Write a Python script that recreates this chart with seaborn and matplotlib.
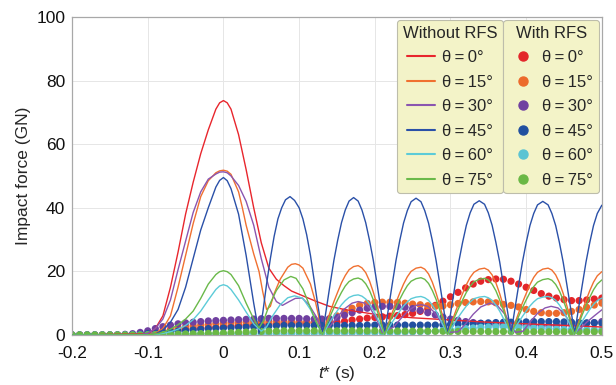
import numpy as np
import seaborn as sns
import matplotlib.pyplot as plt
from matplotlib.lines import Line2D

# ---- data ----
angles = ['0', '15', '30', '45', '60', '75']
line_colors = ['#e8262d', '#f07030', '#8a55b0', '#2a50a8', '#5ccbd8', '#6ab94a']
dot_colors = ['#e3262a', '#ec6a2c', '#7040a0', '#2150a0', '#5bc4d3', '#6ab845']

# Without RFS (lines)
# main pulse part of each curve, own time axis
t_00 = [-0.2, -0.1, -0.09, -0.08, -0.07, -0.06, -0.05, -0.04, -0.03, -0.02, -0.01, -0.005, 0.0,
        0.005, 0.01, 0.02, 0.03, 0.04, 0.05, 0.06, 0.07, 0.08, 0.09, 0.1, 0.11, 0.12, 0.14,
        0.16, 0.2, 0.25, 0.3, 0.35, 0.4, 0.45, 0.5]
f_00 = [0, 0.3, 2, 6, 15, 26, 38, 48, 57, 64.5, 71, 73, 73.7,
        73, 71, 63, 52, 40, 29, 21, 17.5, 15.5, 13.8, 12.8, 11.8, 10.8, 9,
        8, 6.5, 5.4, 4.7, 4, 3.5, 3, 2.5]

t_15p = [-0.2, -0.1, -0.09, -0.08, -0.07, -0.06, -0.05, -0.04, -0.03, -0.02, -0.01, -0.005, 0.0,
         0.005, 0.01, 0.02, 0.025, 0.03, 0.04, 0.047, 0.052, 0.057, 0.062, 0.067, 0.075, 0.085,
         0.09, 0.095, 0.1, 0.105, 0.115, 0.122]
f_15p = [0, 0, 0.5, 2, 6, 15, 25, 35, 43.5, 48.5, 51, 51.6, 51.8,
         51.5, 50.5, 45, 40, 34.5, 25.5, 20, 13.5, 8, 9, 13, 17.5, 21.3,
         22.2, 22.4, 22, 21, 16, 10]

t_30 = [-0.2, -0.11, -0.1, -0.09, -0.08, -0.07, -0.06, -0.05, -0.04, -0.03, -0.02, -0.01, -0.005,
        0.0, 0.005, 0.01, 0.02, 0.03, 0.04, 0.05, 0.06, 0.07, 0.078, 0.087, 0.095, 0.104, 0.113,
        0.122, 0.13,
        0.14, 0.15, 0.16, 0.17, 0.178, 0.187, 0.195, 0.203, 0.21,
        0.225, 0.235, 0.245, 0.255, 0.262, 0.27, 0.278, 0.287, 0.296,
        0.31, 0.32, 0.33, 0.34, 0.352, 0.362, 0.372, 0.38, 0.386,
        0.396, 0.405, 0.415, 0.425, 0.433, 0.442, 0.451, 0.458, 0.465,
        0.472, 0.48, 0.49, 0.5]
f_30 = [0, 0, 0.5, 2, 5, 11, 20.5, 29.5, 38.5, 45, 49, 50.6, 51.2,
        51.3, 51, 50, 47, 42, 34.5, 24, 15, 10.5, 9.3, 10.5, 11.5, 11.6, 9.5,
        6, 2,
        2.5, 5.5, 8.2, 10, 10.5, 10, 8, 4.5, 0.8,
        2.5, 5.3, 7.8, 9.3, 9.5, 9, 7.3, 4.2, 0.8,
        1, 3.5, 6.5, 8.8, 10, 9.2, 6.5, 3, 0.8,
        1.2, 4, 6.8, 8.5, 9, 8.5, 6.5, 3.8, 0.8,
        2, 4, 6, 7.9]

t_45p = [-0.2, -0.1, -0.09, -0.08, -0.07, -0.06, -0.05, -0.04, -0.03, -0.02, -0.01, -0.005, 0.0,
         0.005, 0.01, 0.02, 0.03, 0.04, 0.047,
         0.052, 0.057, 0.062, 0.067, 0.072, 0.077, 0.082, 0.088, 0.094, 0.1, 0.105, 0.11,
         0.115, 0.12, 0.125]
f_45p = [0, 0, 0.3, 1.5, 4, 8, 15, 24, 33, 40, 46.5, 48.6, 49.5,
         48.5, 46, 38, 25, 10, 0.5,
         7, 16, 24, 31, 36.5, 40, 42.5, 43.5, 42.3, 40, 36.5, 31.5,
         25, 17, 9]

t_60p = [-0.2, -0.1, -0.09, -0.08, -0.07, -0.06, -0.05, -0.04, -0.03, -0.02, -0.01, -0.005, 0.0,
         0.005, 0.01, 0.02, 0.03, 0.04, 0.05, 0.057, 0.065, 0.075, 0.085, 0.094, 0.105, 0.115,
         0.123]
f_60p = [0, 0, 0.2, 0.5, 1, 1.8, 3, 4.8, 7.5, 11, 14.3, 15.4, 15.8,
         15.4, 14.3, 11, 7.2, 3.5, 1.2, 2.5, 6, 9.5, 11.7, 12.3, 11.5, 8,
         4]

t_75p = [-0.2, -0.1, -0.09, -0.08, -0.07, -0.06, -0.05, -0.04, -0.03, -0.02, -0.01, -0.005, 0.0,
         0.005, 0.01, 0.02, 0.03, 0.04, 0.047, 0.053, 0.06, 0.07, 0.08, 0.089, 0.096, 0.105,
         0.115, 0.123]
f_75p = [0, 0, 0.3, 0.8, 1.8, 3.2, 5, 7.5, 11.5, 16, 19, 19.9, 20.2,
         19.9, 19, 15.5, 10, 5, 2.2, 4.5, 9, 14, 17.3, 18.4, 17.8, 14.5,
         8.5, 3.8]

# periodic part (0.131 s onwards), shared time axis
t_arch = [0.131,
          0.136, 0.141, 0.146, 0.151, 0.156, 0.161, 0.166, 0.172, 0.178, 0.183, 0.188, 0.193,
          0.198, 0.203, 0.208, 0.213,
          0.218, 0.223, 0.228, 0.233, 0.238, 0.243, 0.248, 0.2545, 0.261, 0.266, 0.271, 0.276,
          0.281, 0.286, 0.291, 0.296,
          0.301, 0.306, 0.311, 0.316, 0.321, 0.326, 0.331, 0.338, 0.345, 0.35, 0.355, 0.36,
          0.365, 0.37, 0.375, 0.38,
          0.385, 0.39, 0.395, 0.4, 0.405, 0.41, 0.415, 0.422, 0.429, 0.434, 0.439, 0.444,
          0.449, 0.454, 0.459, 0.464,
          0.469, 0.474, 0.479, 0.484, 0.489, 0.494, 0.5]
f_15a = [0.3,
         3.7, 7.2, 10.5, 13.5, 16.4, 18.7, 20.5, 21.5, 21.8, 21.1, 19.6, 17, 13.5, 9.4, 4.8, 0.3,
         3.6, 7, 10.2, 13.2, 16, 18.3, 20, 21, 21.3, 20.7, 19.2, 16.6, 13.2, 9.2, 4.7, 0.3,
         3.6, 6.9, 10.1, 13, 15.8, 18.1, 19.7, 20.7, 21, 20.4, 18.9, 16.4, 13, 9, 4.6, 0.3,
         3.6, 6.9, 10.1, 13, 15.8, 18.1, 19.7, 20.7, 21, 20.4, 18.9, 16.4, 13, 9, 4.6, 0.3,
         3.8, 7.4, 10.8, 13.9, 16.6, 18.6, 19.9]
f_45a = [0.5,
         8.2, 16, 23.5, 29.8, 35.3, 39.3, 42.1, 43.2, 42.1, 39.3, 35.3, 29.8, 23.5, 16, 8.2, 0.5,
         8.2, 15.9, 23.4, 29.7, 35.2, 39.1, 41.9, 43, 41.9, 39.1, 35.2, 29.7, 23.4, 15.9, 8.2, 0.5,
         8, 15.6, 23, 29.1, 34.5, 38.4, 41.1, 42.2, 41.1, 38.4, 34.5, 29.1, 23, 15.6, 8, 0.5,
         8, 15.5, 22.8, 29, 34.4, 38.2, 40.9, 42, 40.9, 38.2, 34.4, 29, 22.8, 15.5, 8, 0.5,
         8, 15.5, 22.8, 29, 34.4, 38.2, 40.8]
f_60a = [0.2,
         2.1, 4.2, 6, 7.8, 9.5, 10.8, 11.8, 12.4, 12.6, 12.2, 11.3, 9.8, 7.8, 5.4, 2.8, 0.2,
         2.1, 4, 5.8, 7.5, 9.1, 10.4, 11.4, 11.9, 12.1, 11.7, 10.9, 9.4, 7.5, 5.2, 2.7, 0.2,
         2.1, 4, 5.8, 7.5, 9.1, 10.4, 11.4, 11.9, 12.1, 11.7, 10.9, 9.4, 7.5, 5.2, 2.7, 0.2,
         2.1, 4, 5.8, 7.5, 9.1, 10.4, 11.4, 11.9, 12.1, 11.7, 10.9, 9.4, 7.5, 5.2, 2.7, 0.2,
         2.2, 4.3, 6.2, 8, 9.6, 10.8, 11.6]
f_75a = [0.2,
         3, 5.9, 8.6, 11.1, 13.4, 15.4, 16.8, 17.6, 17.9, 17.4, 16.1, 14, 11.1, 7.7, 3.9, 0.2,
         3.1, 5.9, 8.6, 11.2, 13.5, 15.5, 16.9, 17.7, 18, 17.5, 16.2, 14, 11.2, 7.7, 4, 0.2,
         3, 5.9, 8.5, 11, 13.4, 15.3, 16.7, 17.5, 17.8, 17.3, 16, 13.9, 11, 7.7, 3.9, 0.2,
         3, 5.8, 8.5, 11, 13.3, 15.2, 16.6, 17.4, 17.7, 17.2, 15.9, 13.8, 11, 7.6, 3.9, 0.2,
         3.2, 6.3, 9.2, 11.8, 14.2, 16, 17.3]

# With RFS (dots), sampled every 0.01 s from -0.2 to 0.5
t_dots = np.round(np.arange(-0.2, 0.5001, 0.01), 2)
d_00 = [0, 0, 0, 0, 0, 0, 0, 0,
        0.1, 0.2, 0.4, 0.7, 1.0, 1.3, 1.6, 1.8, 2.0, 2.1, 2.3, 2.4,
        2.6, 2.8, 3.0, 3.1, 3.2, 3.3, 3.4, 3.5, 3.5, 3.6,
        3.6, 3.7, 3.7, 3.8, 3.9, 4.0, 4.3, 4.7, 5.0, 5.3,
        5.5, 5.7, 5.9, 6.1, 6.4, 6.8, 7.4, 8.2, 9.3, 10.6,
        12.0, 13.4, 14.8, 16.0, 16.9, 17.4, 17.6, 17.5, 16.9, 16.0,
        15.0, 14.0, 13.0, 12.2, 11.6, 11.1, 10.8, 10.8, 11.0, 11.3, 11.6]
d_15 = [0, 0, 0, 0, 0, 0, 0, 0,
        0.1, 0.3, 0.6, 1.0, 1.4, 1.8, 2.2, 2.6, 2.9, 3.1, 3.3, 3.5,
        3.7, 3.8, 3.9, 4.0, 4.1, 4.2, 4.2, 4.2, 4.2, 4.2,
        4.1, 4.1, 4.1, 4.4, 5.0, 6.0, 7.2, 8.4, 9.3, 9.9,
        10.2, 10.3, 10.3, 10.2, 10.0, 9.7, 9.5, 9.2, 9.0, 9.1,
        9.5, 9.9, 10.2, 10.4, 10.5, 10.4, 10.1, 9.6, 9.3, 8.8,
        8.0, 7.4, 7.0, 6.8, 6.8, 7.0, 7.4, 8.0, 8.7, 9.4, 10.0]
d_30 = [0, 0, 0, 0, 0, 0, 0, 0.2,
        0.4, 0.8, 1.3, 2.0, 2.6, 3.1, 3.5, 3.8, 4.0, 4.2, 4.4, 4.5,
        4.6, 4.7, 4.8, 4.9, 5.0, 5.1, 5.2, 5.2, 5.2, 5.2,
        5.2, 5.1, 5.0, 5.0, 5.1, 5.5, 6.2, 7.0, 7.8, 8.4,
        8.8, 9.0, 9.0, 8.9, 8.7, 8.3, 7.7, 7.0, 6.3, 5.6,
        5.0, 4.6, 4.2, 3.9, 3.6, 3.4, 3.2, 3.1, 3.0, 3.0,
        3.0, 3.0, 3.0, 3.0, 3.1, 3.2, 3.3, 3.5, 3.7, 3.9, 4.2]
d_45 = [0, 0, 0, 0, 0, 0, 0, 0,
        0.1, 0.2, 0.4, 0.6, 0.8, 1.0, 1.2, 1.4, 1.6, 1.8, 2.0, 2.1,
        2.2, 2.3, 2.4, 2.5, 2.6, 2.7, 2.8, 2.9, 3.0, 3.0,
        3.0, 3.0, 3.0, 3.0, 3.0, 3.0, 3.0, 3.0, 3.0, 3.1,
        3.1, 3.1, 3.1, 3.1, 3.1, 3.1, 3.1, 3.1, 3.1, 3.2,
        3.3, 3.4, 3.5, 3.6, 3.7, 3.8, 3.9, 4.0, 4.0, 4.1,
        4.1, 4.2, 4.2, 4.2, 4.2, 4.1, 4.0, 3.9, 3.8, 3.8, 3.7]
d_60 = [0, 0, 0, 0, 0, 0, 0, 0, 0, 0,
        0.05, 0.1, 0.1, 0.15, 0.15, 0.2, 0.2, 0.25, 0.25, 0.3,
        0.3, 0.3, 0.35, 0.35, 0.4, 0.4, 0.4, 0.45, 0.45, 0.5,
        0.5, 0.5, 0.5, 0.55, 0.55, 0.6, 0.6, 0.6, 0.65, 0.65,
        0.7, 0.7, 0.75, 0.8, 0.85, 0.9, 1.0, 1.1, 1.2, 1.4,
        1.6, 1.8, 2.0, 2.2, 2.4, 2.5, 2.6, 2.6, 2.5, 2.4,
        2.3, 2.2, 2.1, 2.0, 1.9, 1.8, 1.8, 1.7, 1.7, 1.6, 1.6]
d_75 = [0, 0, 0, 0, 0, 0, 0, 0, 0, 0,
        0.05, 0.1, 0.15, 0.2, 0.25, 0.3, 0.35, 0.4, 0.5, 0.55,
        0.6, 0.7, 0.8, 0.9, 1.0, 1.1, 1.2, 1.2, 1.3, 1.3,
        1.3, 1.3, 1.3, 1.3, 1.3, 1.3, 1.3, 1.3, 1.3, 1.3,
        1.3, 1.3, 1.25, 1.25, 1.2, 1.2, 1.2, 1.2, 1.15, 1.15,
        1.1, 1.1, 1.1, 1.1, 1.1, 1.05, 1.05, 1.05, 1.05, 1.0,
        1.0, 1.0, 1.0, 1.0, 1.0, 1.0, 1.0, 1.0, 1.0, 1.0, 1.0]

line_t = [t_00, t_15p + t_arch, t_30, t_45p + t_arch, t_60p + t_arch, t_75p + t_arch]
line_f = [f_00, f_15p + f_15a, f_30, f_45p + f_45a, f_60p + f_60a, f_75p + f_75a]
dot_f = [d_00, d_15, d_30, d_45, d_60, d_75]

xticks = [-0.2, -0.1, 0, 0.1, 0.2, 0.3, 0.4, 0.5]
xticklabels = ['-0.2', '-0.1', '0', '0.1', '0.2', '0.3', '0.4', '0.5']
yticks = [0, 20, 40, 60, 80, 100]

# ---- style ----
sns.set_theme(style='white')
plt.rcParams['font.family'] = ['Liberation Sans', 'DejaVu Sans']
plt.rcParams['mathtext.fontset'] = 'custom'
plt.rcParams['mathtext.it'] = 'Liberation Sans:italic'
plt.rcParams['mathtext.rm'] = 'Liberation Sans'

fig, ax = plt.subplots(figsize=(6.16, 3.85), dpi=100)
plt.subplots_adjust(left=0.117, right=0.977, top=0.956, bottom=0.130)

# dots first, lines over them
for d, c in zip(dot_f, dot_colors):
    sns.scatterplot(x=t_dots, y=d, ax=ax, color=c, s=27, edgecolor='none',
                    linewidth=0, legend=False, zorder=2)
for t, f, c in zip(line_t, line_f, line_colors):
    sns.lineplot(x=t, y=f, ax=ax, color=c, lw=1.0, legend=False, zorder=3)

ax.set_xlim(-0.2, 0.5)
ax.set_ylim(0, 100)
ax.set_xticks(xticks)
ax.set_xticklabels(xticklabels)
ax.set_yticks(yticks)
ax.tick_params(axis='both', labelsize=12.5, length=0, colors='#111111')
ax.tick_params(axis='x', pad=8)
ax.tick_params(axis='y', pad=5)
ax.grid(True, color='#e6e6e6', lw=0.7)
for s in ax.spines.values():
    s.set_color('#a8a8a8')
    s.set_linewidth(0.9)

ax.set_xlabel(r'$t$* (s)', fontsize=12.5, labelpad=2)
ax.set_ylabel('Impact force (GN)', fontsize=12.5, labelpad=4)

# legends
labels = ['\u03b8\u2009=\u2009' + a + '\u00b0' for a in angles]
h_lines = [Line2D([], [], color=c, lw=1.5) for c in line_colors]
h_dots = [Line2D([], [], color=c, marker='o', ls='', ms=6.5) for c in dot_colors]
leg_kw = dict(loc='upper right', fontsize=12, title_fontsize=12, frameon=True,
              fancybox=True, facecolor='#f3f3c8', edgecolor='#bdbdab', framealpha=1,
              borderaxespad=0, labelspacing=0.57, borderpad=0.35)
leg1 = ax.legend(h_lines, labels, title='Without RFS', handlelength=1.65,
                 handletextpad=0.45, bbox_to_anchor=(0.814, 0.991), **leg_kw)
ax.add_artist(leg1)
leg2 = ax.legend(h_dots, labels, title='With RFS', handlelength=1.7,
                 handletextpad=0.3, bbox_to_anchor=(0.995, 0.991), **leg_kw)
for lg in (leg1, leg2):
    lg.get_frame().set_linewidth(0.8)
    lg.set_zorder(5)

plt.savefig('out.png', dpi=100)
